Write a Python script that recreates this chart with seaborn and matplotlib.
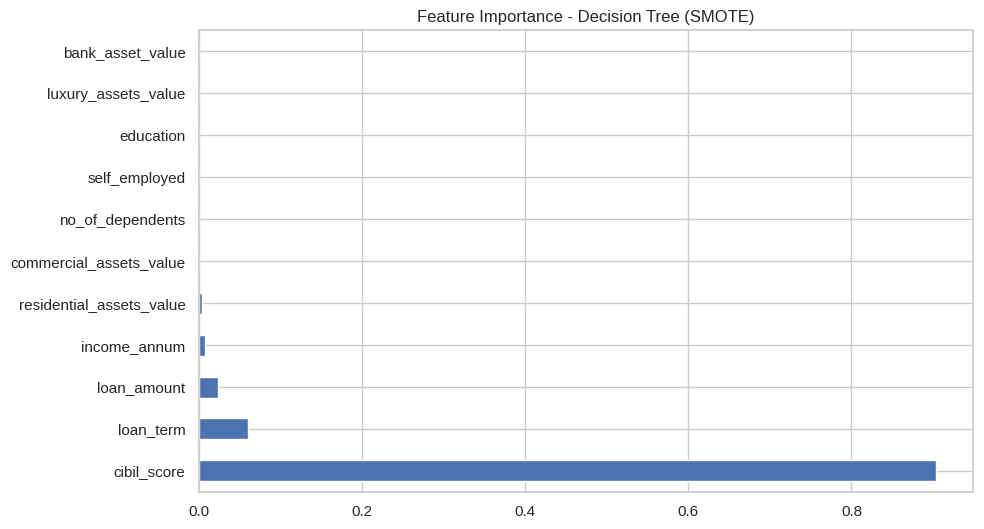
import pandas as pd
import matplotlib
matplotlib.use("Agg")
import matplotlib.pyplot as plt
import seaborn as sns

# importancias (de arriba hacia abajo)
features = ['bank_asset_value', 'luxury_assets_value', 'education', 'self_employed',
            'no_of_dependents', 'commercial_assets_value', 'residential_assets_value',
            'income_annum', 'loan_amount', 'loan_term', 'cibil_score']
importances = [0.0, 0.0, 0.0, 0.0, 0.0, 0.0006, 0.0045, 0.0082, 0.0235, 0.0605, 0.904]

df = pd.DataFrame({'feature': features, 'importance': importances})

sns.set_theme(style="whitegrid")
plt.rcParams['font.family'] = ['Liberation Sans', 'DejaVu Sans']

fig, ax = plt.subplots(figsize=(9.84, 5.29), dpi=100)
sns.barplot(data=df, x='importance', y='feature', order=features,
            color='#4C72B0', saturation=1, width=0.5, ax=ax)

ax.set_title('Feature Importance - Decision Tree (SMOTE)', fontsize=12)
ax.set_xlabel('')
ax.set_ylabel('')
ax.set_xticks([0.0, 0.2, 0.4, 0.6, 0.8])
ax.grid(True, axis='both')
ax.set_axisbelow(True)

fig.subplots_adjust(left=0.202, right=0.989, top=0.943, bottom=0.07)
fig.savefig('out.png', dpi=100)
